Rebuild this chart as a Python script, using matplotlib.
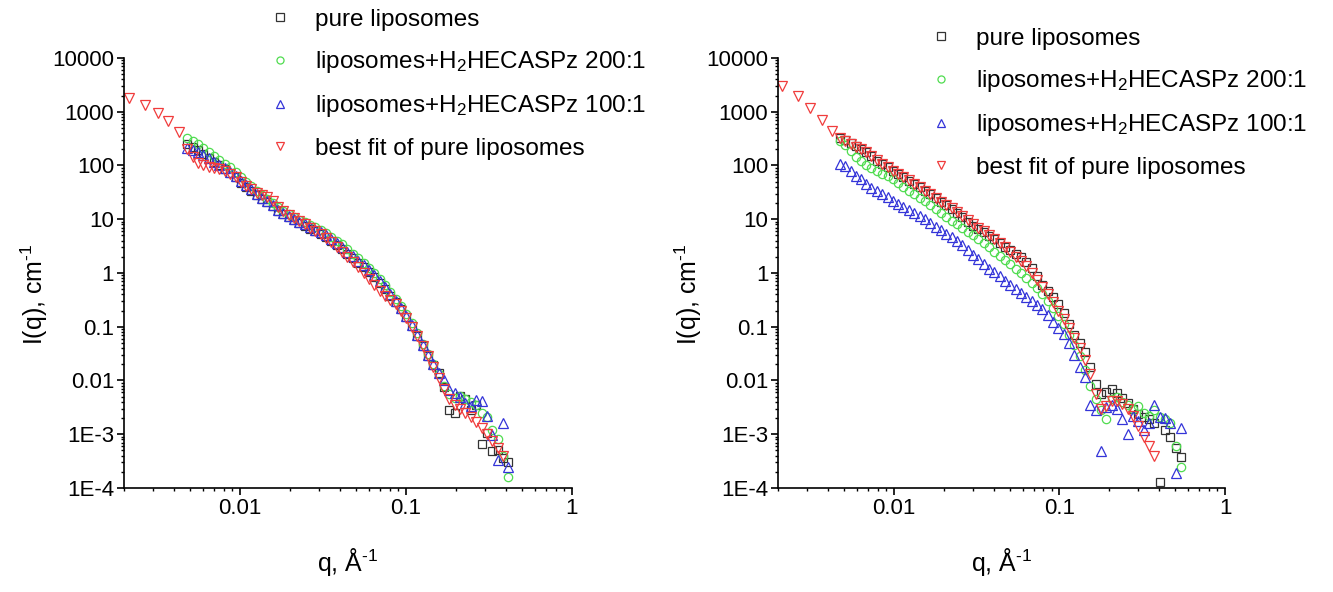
import matplotlib
matplotlib.use('Agg')
import matplotlib.pyplot as plt
from matplotlib.ticker import FixedLocator, FixedFormatter, LogLocator, NullFormatter

plt.rcParams['font.family'] = ['Liberation Sans', 'DejaVu Sans']
plt.rcParams['mathtext.fontset'] = 'custom'
plt.rcParams['mathtext.rm'] = 'Liberation Sans'
plt.rcParams['mathtext.it'] = 'Liberation Sans:italic'
plt.rcParams['mathtext.bf'] = 'Liberation Sans:bold'

# ---------------- data: left panel ----------------
q_left = [0.0048, 0.0052, 0.0056, 0.0060, 0.0065, 0.0070, 0.0075, 0.0081, 0.0087, 0.0094,
          0.0101, 0.0109, 0.0117, 0.0126, 0.0136, 0.0146, 0.0157, 0.0169, 0.0182, 0.0196,
          0.0211, 0.0227, 0.0245, 0.0264, 0.0284, 0.0306, 0.0330, 0.0355, 0.0383, 0.0412,
          0.0444, 0.0478, 0.0515, 0.0555, 0.0598, 0.0644, 0.0694, 0.0747, 0.0805, 0.0867,
          0.0934, 0.1006, 0.1084, 0.1168, 0.1258, 0.1355, 0.1460, 0.1573, 0.1694, 0.1825,
          0.1966, 0.2118, 0.2281, 0.2457, 0.2647, 0.2851, 0.3071, 0.3308, 0.3564, 0.3839,
          0.4135]
pure_left = [255, 225, 190, 165, 140, 118, 100, 86, 73, 60,
             48, 40, 33, 28, 24, 21, 17.5, 14.5, 12.5, 11.0,
             9.6, 8.5, 7.5, 6.7, 6.0, 5.3, 4.6, 3.9, 3.3, 2.75,
             2.3, 1.9, 1.55, 1.28, 1.05, 0.83, 0.66, 0.5, 0.38, 0.29,
             0.21, 0.15, 0.105, 0.068, 0.044, 0.029, 0.019, 0.014, 0.0075, 0.0028,
             0.0025, 0.0052, 0.0045, 0.0028, 0.0035, 0.00067, 0.00105, 0.00048, 0.0005, 0.00036,
             0.0003]
r200_left = [320, 290, 250, 210, 175, 150, 128, 108, 92, 76,
             60, 50, 41, 34, 28, 24, 20, 17, 14.5, 12.5,
             11, 9.8, 8.8, 7.9, 7.1, 6.3, 5.5, 4.7, 4.0, 3.4,
             2.8, 2.3, 1.9, 1.55, 1.25, 1.0, 0.78, 0.6, 0.45, 0.33,
             0.24, 0.17, 0.115, 0.075, 0.048, 0.031, 0.02, 0.013, 0.008, 0.0055,
             0.0048, 0.0052, 0.0045, 0.004, 0.0035, 0.0025, 0.0021, 0.0012, 0.0008, 0.0004,
             0.00016]
r100_left = [210, 195, 175, 155, 135, 118, 102, 88, 76, 64,
             52, 43, 36, 30, 25, 21.5, 18, 15, 13, 11.3,
             10, 8.9, 8.0, 7.2, 6.4, 5.7, 5.0, 4.3, 3.6, 3.0,
             2.5, 2.1, 1.7, 1.4, 1.12, 0.9, 0.72, 0.55, 0.41, 0.3,
             0.22, 0.16, 0.108, 0.07, 0.046, 0.03, 0.02, 0.014, 0.0102, 0.0066,
             0.0058, 0.005, 0.0038, 0.0033, 0.0044, 0.0042, 0.0022, 0.00097, 0.00033, 0.0016,
             0.00025]
qfit_left = [0.00213, 0.00269, 0.00321, 0.0037, 0.00431,
             0.0048, 0.0052, 0.0056, 0.0060, 0.0065, 0.0070, 0.0075, 0.0081, 0.0087, 0.0094,
             0.0101, 0.0109, 0.0117, 0.0126, 0.0136, 0.0146, 0.0157, 0.0169, 0.0182, 0.0196,
             0.0211, 0.0227, 0.0245, 0.0264, 0.0284, 0.0306, 0.0330, 0.0355, 0.0383, 0.0412,
             0.0444, 0.0478, 0.0515, 0.0555, 0.0598, 0.0644, 0.0694, 0.0747, 0.0805, 0.0867,
             0.0934, 0.1006, 0.1084, 0.1168, 0.1258, 0.1355, 0.1460, 0.1573, 0.1694, 0.1825,
             0.1966, 0.2118, 0.2281, 0.2457, 0.2647, 0.2851, 0.3071, 0.3308, 0.3564, 0.3839]
fit_left = [1800, 1330, 960, 680, 420,
            200, 146, 112, 100, 95, 90, 85, 78, 70, 60,
            50, 42, 36, 31, 28, 26, 22, 17, 14, 12,
            10.5, 9.2, 8.0, 7.0, 6.1, 5.3, 4.5, 3.8, 3.1, 2.5,
            2.0, 1.6, 1.3, 1.0, 0.78, 0.6, 0.47, 0.38, 0.32, 0.26,
            0.2, 0.145, 0.1, 0.066, 0.043, 0.028, 0.018, 0.011, 0.0068, 0.0045,
            0.0035, 0.003, 0.0025, 0.0021, 0.0017, 0.0013, 0.001, 0.00075, 0.00055, 0.0004]

# ---------------- data: right panel ----------------
q_right = [0.0047, 0.0051, 0.0055, 0.0059, 0.0063, 0.0068, 0.0073, 0.0079, 0.0085, 0.0092,
           0.0099, 0.0106, 0.0114, 0.0123, 0.0133, 0.0143, 0.0154, 0.0166, 0.0179, 0.0192,
           0.0207, 0.0223, 0.0240, 0.0259, 0.0279, 0.0300, 0.0323, 0.0348, 0.0375, 0.0404,
           0.0435, 0.0468, 0.0504, 0.0543, 0.0585, 0.0630, 0.0679, 0.0731, 0.0787, 0.0848,
           0.0913, 0.0983, 0.1059, 0.1141, 0.1229, 0.1323, 0.1425, 0.1535, 0.1653, 0.1780,
           0.1917, 0.2065, 0.2224, 0.2395, 0.2579, 0.2778, 0.2992, 0.3222, 0.3470, 0.3737,
           0.4025, 0.4335, 0.4669, 0.5028, 0.5415]
pure_right = [330, 300, 260, 233, 205, 178, 150, 122, 105, 92,
              78, 68, 60, 52, 46, 40, 34, 29, 24.5, 21,
              18, 15.5, 13, 11, 9.0, 7.6, 6.6, 5.7, 4.9, 4.2,
              3.6, 3.1, 2.7, 2.3, 1.95, 1.6, 1.25, 0.88, 0.6, 0.46,
              0.36, 0.27, 0.18, 0.11, 0.07, 0.05, 0.034, 0.018, 0.0085, 0.0055,
              0.0062, 0.0068, 0.0058, 0.0048, 0.0038, 0.0029, 0.0024, 0.0021, 0.0019, 0.0016,
              0.00013, 0.0012, 0.0009, 0.00055, 0.00038]
r200_right = [280, 240, 185, 145, 120, 100, 88, 78, 70, 63,
              55, 47, 40, 34, 29, 25, 21.5, 18, 15.3, 13,
              11, 9.4, 8.0, 6.8, 5.8, 5.0, 4.3, 3.6, 3.0, 2.5,
              2.1, 1.75, 1.45, 1.2, 1.0, 0.82, 0.66, 0.52, 0.4, 0.3,
              0.22, 0.16, 0.11, 0.07, 0.045, 0.028, 0.016, 0.008, 0.0045, 0.0028,
              0.0019, 0.0045, 0.005, 0.004, 0.0035, 0.003, 0.0033, 0.0025, 0.0022, 0.0028,
              0.0021, 0.0019, 0.0016, 0.0006, 0.00025]
r100_right = [105, 98, 80, 65, 56, 45, 38, 34, 30, 26,
              22, 19.5, 17, 15, 13, 11.3, 10, 8.5, 7.3, 6.3,
              5.4, 4.6, 3.9, 3.3, 2.7, 2.2, 1.85, 1.5, 1.2, 1.05,
              0.88, 0.72, 0.6, 0.5, 0.42, 0.35, 0.3, 0.25, 0.21, 0.165,
              0.125, 0.095, 0.072, 0.05, 0.03, 0.018, 0.0115, 0.0035, 0.0028, 0.00048,
              0.0032, 0.0035, 0.003, 0.0019, 0.001, 0.0022, 0.0018, 0.0012, 0.0016, 0.0035,
              0.0021, 0.0020, 0.0016, 0.00019, 0.0013]
qfit_right = [0.0021, 0.00263, 0.00313, 0.00367, 0.00423,
              0.0047, 0.0051, 0.0055, 0.0059, 0.0063, 0.0068, 0.0073, 0.0079, 0.0085, 0.0092,
              0.0099, 0.0106, 0.0114, 0.0123, 0.0133, 0.0143, 0.0154, 0.0166, 0.0179, 0.0192,
              0.0207, 0.0223, 0.0240, 0.0259, 0.0279, 0.0300, 0.0323, 0.0348, 0.0375, 0.0404,
              0.0435, 0.0468, 0.0504, 0.0543, 0.0585, 0.0630, 0.0679, 0.0731, 0.0787, 0.0848,
              0.0913, 0.0983, 0.1059, 0.1141, 0.1229, 0.1323, 0.1425, 0.1535, 0.1653, 0.1780,
              0.1917, 0.2065, 0.2224, 0.2395, 0.2579, 0.2778, 0.2992, 0.3222, 0.3470, 0.3737]
fit_right = [3000, 1970, 1180, 700, 440,
             320, 280, 250, 225, 200, 180, 150, 125, 108, 92,
             80, 70, 61, 53, 46, 40, 34, 29, 25, 21,
             18.5, 16, 13.5, 11.5, 9.6, 8.2, 7.0, 6.0, 5.1, 4.3,
             3.6, 3.0, 2.5, 2.0, 1.7, 1.35, 1.0, 0.75, 0.55, 0.4,
             0.29, 0.2, 0.14, 0.095, 0.062, 0.04, 0.024, 0.013, 0.0055, 0.003,
             0.0034, 0.0041, 0.0042, 0.0036, 0.003, 0.0022, 0.0014, 0.0009, 0.0006, 0.0004]

labels = ['pure liposomes',
          'liposomes+H$_2$HECASPz 200:1',
          'liposomes+H$_2$HECASPz 100:1',
          'best fit of pure liposomes']
y_ticks = [1e-4, 1e-3, 1e-2, 1e-1, 1, 10, 100, 1000, 10000]
y_ticklabels = ['1E-4', '1E-3', '0.01', '0.1', '1', '10', '100', '1000', '10000']
x_ticks = [0.01, 0.1, 1]
x_ticklabels = ['0.01', '0.1', '1']

colors = ['#333333', '#4fdc4f', '#3434d8', '#f03c3c']
markers = ['s', 'o', '^', 'v']
msizes = [6, 6, 7, 7]

fig = plt.figure(figsize=(13.33, 5.92), dpi=100)
ax_l = fig.add_axes([0.0930, 0.1757, 0.3361, 0.7264])
ax_r = fig.add_axes([0.5837, 0.1757, 0.3353, 0.7264])

panels = [
    (ax_l, [(q_left, pure_left), (q_left, r200_left), (q_left, r100_left), (qfit_left, fit_left)],
     (0.2006, 0.985)),
    (ax_r, [(q_right, pure_right), (q_right, r200_right), (q_right, r100_right), (qfit_right, fit_right)],
     (0.6968, 0.953)),
]

for ax, series, leg_anchor in panels:
    handles = []
    for (qq, ii), c, m, ms, lab in zip(series, colors, markers, msizes, labels):
        h, = ax.plot(qq, ii, linestyle='none', marker=m, ms=ms, mfc='none',
                     mec=c, mew=0.9, label=lab)
        handles.append(h)
    ax.set_xscale('log')
    ax.set_yscale('log')
    ax.set_xlim(0.002, 1)
    ax.set_ylim(1e-4, 1e4)
    for s in ['top', 'right']:
        ax.spines[s].set_visible(False)
    for s in ['left', 'bottom']:
        ax.spines[s].set_linewidth(1.2)
    ax.yaxis.set_major_locator(FixedLocator(y_ticks))
    ax.yaxis.set_major_formatter(FixedFormatter(y_ticklabels))
    ax.yaxis.set_minor_locator(LogLocator(base=10, subs=[2, 3, 4, 5, 6, 7, 8, 9], numticks=20))
    ax.yaxis.set_minor_formatter(NullFormatter())
    ax.xaxis.set_major_locator(FixedLocator(x_ticks))
    ax.xaxis.set_major_formatter(FixedFormatter(x_ticklabels))
    ax.xaxis.set_minor_locator(LogLocator(base=10, subs=[2, 3, 4, 5, 6, 7, 8, 9], numticks=20))
    ax.xaxis.set_minor_formatter(NullFormatter())
    ax.tick_params(which='major', direction='out', length=5, width=1.2, labelsize=16, pad=2)
    ax.tick_params(which='minor', direction='out', length=2.5, width=1.0)
    ax.set_xlabel('q, \u00c5$^{\\text{-}1}$', fontsize=18)
    ax.set_ylabel('I(q), cm$^{\\text{-}1}$', fontsize=18)
    ax.xaxis.set_label_coords(0.5, -0.135)
    ax.yaxis.set_label_coords(-0.165, 0.45)
    ax.legend(handles=handles, loc='upper left', bbox_to_anchor=leg_anchor,
              bbox_transform=fig.transFigure, frameon=False, borderpad=0,
              borderaxespad=0, handlelength=1.0, handletextpad=0.96,
              labelspacing=0.75, fontsize=17.5, markerscale=0.85)

fig.savefig('out.png', dpi=100)
